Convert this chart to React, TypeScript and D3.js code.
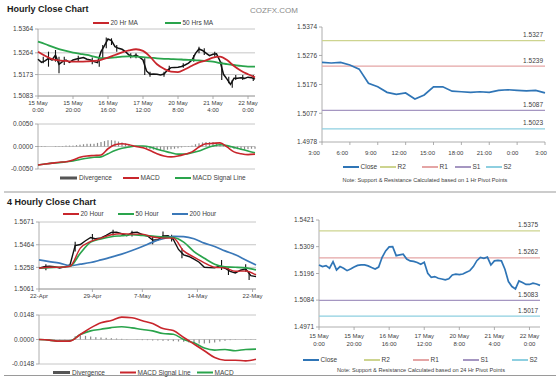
import React from 'react';
import * as d3 from 'd3';

const FONT = 'Arial, "Liberation Sans", sans-serif';
const RED = '#c8262c';
const GREEN = '#2aa44c';
const BLUE = '#3a78b8';
const CLOSE_BLUE = '#2f75b6';
const AXIS = '#9a9a9a';
const GRID = '#b8b8b8';
const TXT = '#404040';
const DIV = '#8a8a8a';

// ---------- Hourly close chart (15 May 0:00 .. 22 May), close every 2 hours
const hourlyClose = [
  1.5237, 1.5224, 1.523, 1.5241, 1.5234, 1.5255, 1.5216, 1.5227, 1.5234, 1.5224,
  1.5234, 1.5238, 1.5241, 1.5244, 1.5237, 1.5234, 1.5227, 1.5223, 1.5269, 1.5294,
  1.5322, 1.5315, 1.529, 1.5283, 1.5279, 1.5269, 1.5255, 1.5249, 1.5255, 1.5246,
  1.5234, 1.5188, 1.5174, 1.5175, 1.5174, 1.5171, 1.5175, 1.5192, 1.5202, 1.5203,
  1.5204, 1.5207, 1.5213, 1.5221, 1.5234, 1.5262, 1.528, 1.5274, 1.5263, 1.5252,
  1.5258, 1.526, 1.523, 1.5174, 1.5154, 1.5132, 1.5157, 1.5157, 1.516, 1.5157,
  1.5162, 1.516, 1.5154,
];
// high/low bars (hour, high, low)
const hourlyBarHours = [3, 6, 10, 12, 15, 23, 31, 35, 37, 39, 42, 45, 53, 56, 61, 64, 72, 75, 83, 89, 92, 95, 101, 105, 109, 111, 113, 117, 123];
const hourlyBarHighs = [1.5248, 1.5269, 1.5276, 1.5248, 1.5248, 1.5252, 1.5244, 1.5234, 1.5297, 1.5328, 1.5325, 1.5297, 1.5262, 1.5262, 1.5241, 1.5185, 1.5185, 1.521, 1.522, 1.5255, 1.529, 1.5283, 1.5269, 1.5227, 1.5164, 1.515, 1.5171, 1.5171, 1.5171];
const hourlyBarLows = [1.522, 1.5206, 1.5227, 1.5178, 1.5213, 1.523, 1.5216, 1.5206, 1.5241, 1.5283, 1.5297, 1.5269, 1.5241, 1.5241, 1.5171, 1.5164, 1.5164, 1.5185, 1.5202, 1.5227, 1.5262, 1.5255, 1.5248, 1.515, 1.5136, 1.5118, 1.515, 1.515, 1.5146];
// moving averages, every 4 hours
const ma20Hr = [1.5269, 1.5252, 1.5238, 1.5232, 1.523, 1.5227, 1.5227, 1.5228, 1.523, 1.5235, 1.5244, 1.5255, 1.5266, 1.5274, 1.5279, 1.5272, 1.5248, 1.5216, 1.5197, 1.5185, 1.5183, 1.5195, 1.521, 1.5224, 1.5232, 1.5244, 1.5248, 1.5234, 1.5209, 1.5189, 1.5174, 1.5161];
const ma50Hr = [1.5311, 1.5301, 1.529, 1.528, 1.5272, 1.5265, 1.526, 1.5255, 1.5248, 1.5242, 1.5242, 1.5245, 1.5248, 1.5249, 1.5248, 1.5246, 1.5244, 1.5241, 1.5239, 1.5238, 1.5237, 1.5235, 1.5234, 1.5232, 1.523, 1.5227, 1.5221, 1.5217, 1.5213, 1.5209, 1.5206, 1.5206];
const hourlyMacd = [-0.0041, -0.0039, -0.0037, -0.0035, -0.0034, -0.003, -0.0024, -0.0021, -0.002, -0.0019, -0.0005, 0.0004, 0.0006, 0.0004, 0.0, -0.0003, -0.0009, -0.0016, -0.0021, -0.0023, -0.0021, -0.0017, -0.0012, -0.0001, 0.0006, 0.0007, 0.0008, -0.0001, -0.0012, -0.0016, -0.0018, -0.0017];
const hourlySignal = [-0.0041, -0.0039, -0.0037, -0.0036, -0.0034, -0.0032, -0.0029, -0.0026, -0.0024, -0.0023, -0.0016, -0.0009, -0.0004, -0.0001, 0.0001, 0.0001, -0.0001, -0.0006, -0.001, -0.0014, -0.0017, -0.0017, -0.0014, -0.001, -0.0004, 0.0001, 0.0004, 0.0002, -0.0002, -0.0006, -0.001, -0.0014];
// divergence, every 2 hours
const hourlyDivergence = [
  -0.0001, -0.0001, -0.0001, 0, 0, 0.0001, 0.0001, 0.0001, 0.0002, 0.0002,
  0.0002, 0.0003, 0.0004, 0.0005, 0.0006, 0.0006, 0.0006, 0.0008, 0.001, 0.0012,
  0.0014, 0.0014, 0.0013, 0.0011, 0.0009, 0.0007, 0.0004, 0.0002, 0.0001, -0.0001,
  -0.0003, -0.0004, -0.0006, -0.0007, -0.0008, -0.0008, -0.0008, -0.0007, -0.0006, -0.0005,
  -0.0004, -0.0002, -0.0001, 0.0001, 0.0002, 0.0005, 0.0007, 0.0009, 0.001, 0.001,
  0.001, 0.0008, 0.0006, 0.0003, 0.0001, -0.0002, -0.0005, -0.0006, -0.0007, -0.0007,
  -0.0006, -0.0005, -0.0005,
];
const hourlyTickLabels = [['15 May', '0:00'], ['15 May', '20:00'], ['16 May', '16:00'], ['17 May', '12:00'], ['20 May', '8:00'], ['21 May', '4:00'], ['22 May', '0:00']];
const hourlyPriceTicks = [1.5083, 1.5173, 1.5264, 1.5364];
const hourlyMacdTicks = [-0.005, 0, 0.005];

// ---------- last 24 hours with 1 Hr pivots
const dayLabels = ['3:00', '6:00', '9:00', '12:00', '15:00', '18:00', '21:00', '0:00', '3:00'];
const dayClose = [1.5252, 1.525, 1.5252, 1.5243, 1.5229, 1.518, 1.5168, 1.5149, 1.5142, 1.5147, 1.5126, 1.514, 1.5168, 1.5168, 1.5153, 1.5151, 1.5149, 1.5151, 1.5149, 1.5156, 1.5158, 1.5156, 1.5154, 1.5156, 1.5147];
const dayPriceTicks = [1.4978, 1.5077, 1.5176, 1.5276, 1.5374];
const pivotNames = ['R2', 'R1', 'S1', 'S2'];
const pivotColors = ['#cdd48f', '#e4a5a5', '#a596c1', '#8ecfe0'];
const dayPivots = [1.5327, 1.5239, 1.5087, 1.5023];

// ---------- 4 hourly close chart (22-Apr .. 22-May), close every 3 bars
const fourHourClose = [
  1.525, 1.5265, 1.5268, 1.5265, 1.5253, 1.5262, 1.528, 1.5457, 1.5466, 1.55,
  1.553, 1.5518, 1.5527, 1.5549, 1.5576, 1.5579, 1.5564, 1.5546, 1.5573, 1.5579,
  1.5555, 1.5543, 1.5506, 1.5509, 1.5543, 1.5546, 1.5512, 1.5421, 1.5372, 1.5357,
  1.5332, 1.5305, 1.5259, 1.5256, 1.5253, 1.5271, 1.525, 1.5222, 1.5207, 1.5232,
  1.5244, 1.5183, 1.5174,
];
const fourHourBarIdx = [4, 21, 31, 43, 54, 66, 72, 77, 83, 106, 110, 120, 122];
const fourHourBarHighs = [1.5287, 1.5491, 1.5561, 1.5601, 1.5591, 1.5543, 1.5585, 1.5555, 1.5433, 1.5326, 1.525, 1.5287, 1.5219];
const fourHourBarLows = [1.5232, 1.5402, 1.5509, 1.5549, 1.554, 1.5469, 1.5524, 1.5494, 1.5341, 1.5235, 1.5189, 1.5219, 1.5143];
// moving averages, every 6 bars
const ma20Hour = [1.525, 1.5259, 1.5259, 1.5268, 1.5433, 1.5494, 1.5524, 1.5555, 1.5564, 1.5561, 1.5561, 1.5534, 1.5524, 1.5524, 1.5408, 1.5351, 1.5299, 1.5259, 1.5253, 1.5222, 1.5225, 1.5189];
const ma50Hour = [1.525, 1.5256, 1.5259, 1.5268, 1.5387, 1.5488, 1.5518, 1.5537, 1.5546, 1.5555, 1.5549, 1.5543, 1.5534, 1.553, 1.5488, 1.5402, 1.5341, 1.5287, 1.5262, 1.5259, 1.5253, 1.5235];
const ma200Hour = [1.5326, 1.5311, 1.5296, 1.5274, 1.5287, 1.5302, 1.5326, 1.5351, 1.5378, 1.5411, 1.5448, 1.5488, 1.5518, 1.554, 1.5537, 1.5518, 1.5479, 1.5448, 1.5408, 1.5372, 1.5326, 1.528];
const fourHourSignal = [0, -0.0004, -0.001, -0.001, 0.003, 0.007, 0.0101, 0.0115, 0.0135, 0.0131, 0.0113, 0.0097, 0.0066, 0.0054, 0.0012, -0.0028, -0.0068, -0.0109, -0.0125, -0.0125, -0.0129, -0.0119];
const fourHourMacd = [0, -0.0004, -0.001, -0.0008, 0.003, 0.0052, 0.0062, 0.0072, 0.0077, 0.007, 0.006, 0.0052, 0.0036, 0.0032, 0, -0.002, -0.0052, -0.0064, -0.006, -0.0068, -0.006, -0.0058];
const fourHourDivergence = [
  -0.0002, -0.0002, -0.0002, -0.0002, -0.0002, -0.0002, 0.0002, 0.002, 0.0024, 0.0022,
  0.0018, 0.0014, 0.0012, 0.001, 0.0008, 0.0006, 0.0004, 0.0002, 0, -0.0002,
  -0.0004, -0.0004, -0.0006, -0.0006, -0.0008, -0.0008, -0.001, -0.0012, -0.0014, -0.0018,
  -0.0022, -0.0024, -0.0024, -0.0022, -0.0018, -0.0012, -0.0008, -0.0004, -0.0002, 0,
  0.0002, 0.0002, 0.0002,
];
const fourHourLabels = ['22-Apr', '29-Apr', '7-May', '14-May', '22-May'];
const fourHourLabelIdx = [0, 31, 60, 92, 124];
const fourHourPriceTicks = [1.5061, 1.5258, 1.5464, 1.5671];
const fourHourMacdTicks = [-0.0148, 0, 0.0148];

// ---------- hourly close with 24 Hr pivots
const weekClose = [
  1.5232, 1.5225, 1.5229, 1.5218, 1.5246, 1.5211, 1.5225, 1.5218, 1.5208, 1.5215,
  1.5223, 1.523, 1.5232, 1.5232, 1.5228, 1.5221, 1.5215, 1.5223, 1.5264, 1.5291,
  1.5308, 1.5309, 1.5271, 1.5274, 1.5277, 1.5257, 1.5249, 1.5247, 1.5242, 1.5235,
  1.5243, 1.5197, 1.518, 1.5183, 1.5176, 1.5173, 1.5169, 1.5174, 1.519, 1.5193,
  1.5191, 1.5194, 1.5201, 1.5208, 1.5225, 1.525, 1.5264, 1.526, 1.5265, 1.5232,
  1.5249, 1.5251, 1.5249, 1.5214, 1.5162, 1.5141, 1.5131, 1.5165, 1.5158, 1.515,
  1.515, 1.5155, 1.5152, 1.5146,
];
const weekPriceTicks = [1.4971, 1.5084, 1.5196, 1.5309, 1.5421];
const weekPivots = [1.5375, 1.5262, 1.5083, 1.5017];

type Lin = d3.ScaleLinear<number, number>;
const fmt4 = (v: number) => v.toFixed(4);

function YAxis({ y, ticks, x, x2, grid }: { y: Lin; ticks: number[]; x: number; x2: number; grid: boolean }) {
  const [b, t] = y.range();
  return (
    <g>
      {grid && ticks.map((v) => <line key={'g' + v} x1={x} x2={x2} y1={y(v)} y2={y(v)} stroke={GRID} strokeWidth={0.8} />)}
      <line x1={x} x2={x} y1={b} y2={t} stroke={AXIS} strokeWidth={0.8} />
      {ticks.map((v) => (
        <g key={v}>
          <line x1={x - 3} x2={x} y1={y(v)} y2={y(v)} stroke={AXIS} strokeWidth={0.8} />
          <text x={x - 5} y={y(v)} dy="0.35em" textAnchor="end" fontSize={6.5} fill={TXT}>{fmt4(v)}</text>
        </g>
      ))}
    </g>
  );
}

function XBase({ y, x1, x2, ticks }: { y: number; x1: number; x2: number; ticks: number[] }) {
  return (
    <g>
      <line x1={x1} x2={x2} y1={y} y2={y} stroke={AXIS} strokeWidth={0.8} />
      {ticks.map((t, i) => <line key={i} x1={t} x2={t} y1={y} y2={y + 3} stroke={AXIS} strokeWidth={0.8} />)}
    </g>
  );
}

type Item = { label: string; color: string; x: number; bar?: boolean };
function Legend({ y, items }: { y: number; items: Item[] }) {
  return (
    <g fontSize={6.5} fill={TXT}>
      {items.map((it) => (
        <g key={it.label}>
          {it.bar
            ? <rect x={it.x} y={y - 1.5} width={17} height={3} fill="#555" />
            : <line x1={it.x} x2={it.x + 16} y1={y} y2={y} stroke={it.color} strokeWidth={2} />}
          <text x={it.x + (it.bar ? 19 : 17.5)} y={y} dy="0.35em">{it.label}</text>
        </g>
      ))}
    </g>
  );
}

function Pivots({ y, values, x1, x2 }: { y: Lin; values: number[]; x1: number; x2: number }) {
  return (
    <g>
      {values.map((v, i) => (
        <g key={pivotNames[i]}>
          <line x1={x1} x2={x2} y1={y(v)} y2={y(v)} stroke={pivotColors[i]} strokeWidth={1.2} />
          <text x={x2 - 2} y={y(v) - 3.5} textAnchor="end" fontSize={6.5} fill={TXT}>{fmt4(v)}</text>
        </g>
      ))}
    </g>
  );
}

export default function App() {
  // top-left hourly
  const hx = d3.scaleLinear().domain([0, 124]).range([38, 255]);
  const hy = d3.scaleLinear().domain([1.5083, 1.5364]).range([96, 29]);
  const hm = d3.scaleLinear().domain([-0.005, 0.005]).range([169, 124]);
  const hLine = (step: number, y: Lin) => d3.line<number>().x((_, i) => hx(i * step)).y((d) => y(d)).curve(d3.curveMonotoneX);
  const hTicks = hourlyTickLabels.map((_, i) => hx(i * 20));

  // top-right 24h
  const dx = d3.scaleLinear().domain([0, dayClose.length - 1]).range([322, 545]);
  const dLab = d3.scalePoint<number>().domain(dayLabels.map((_, i) => i)).range([314, 541]);
  const dy = d3.scaleLinear().domain([1.4978, 1.5374]).range([142, 27]);
  const dPath = d3.line<number>().x((_, i) => dx(i)).y((d) => dy(d))(dayClose) || '';

  // bottom-left 4 hourly
  const fx = d3.scaleLinear().domain([0, 126]).range([39, 256]);
  const fy = d3.scaleLinear().domain([1.5061, 1.5671]).range([289, 222]);
  const fm = d3.scaleLinear().domain([-0.0148, 0.0148]).range([364, 315]);
  const fLine = (step: number, y: Lin) => d3.line<number>().x((_, i) => fx(i * step)).y((d) => y(d)).curve(d3.curveMonotoneX);

  // bottom-right hourly with 24h pivots
  const bx = d3.scaleLinear().domain([0, 126]).range([319, 540]);
  const by = d3.scaleLinear().domain([1.4971, 1.5421]).range([327, 220]);
  const bPath = d3.line<number>().x((_, i) => bx(i * 2)).y((d) => by(d))(weekClose) || '';
  const bTicks = hourlyTickLabels.map((_, i) => bx(i * 20));

  return (
    <svg width={560} height={385} style={{ position: 'absolute', left: 0, top: 0, background: '#fff' }} fontFamily={FONT}>
      <text x={7} y={12} fontSize={9} fontWeight="bold" fill="#1a1a1a">Hourly Close Chart</text>
      <text x={250} y={12.5} fontSize={8} fill="#8a8a8a">COZFX.COM</text>

      {/* ---- hourly price ---- */}
      <Legend y={23} items={[{ label: '20 Hr MA', color: RED, x: 93 }, { label: '50 Hrs MA', color: GREEN, x: 165 }]} />
      <YAxis y={hy} ticks={hourlyPriceTicks} x={38} x2={255} grid />
      <XBase y={hy(hourlyPriceTicks[0])} x1={38} x2={255} ticks={hTicks} />
      {hourlyBarHours.map((h, i) => (
        <line key={h} x1={hx(h)} x2={hx(h)} y1={hy(hourlyBarHighs[i])} y2={hy(hourlyBarLows[i])} stroke="#111" strokeWidth={1.1} />
      ))}
      <path d={d3.line<number>().x((_, i) => hx(i * 2)).y((d) => hy(d))(hourlyClose) || ''} fill="none" stroke="#111" strokeWidth={1.5} />
      <path d={hLine(4, hy)(ma50Hr) || ''} fill="none" stroke={GREEN} strokeWidth={1.8} />
      <path d={hLine(4, hy)(ma20Hr) || ''} fill="none" stroke={RED} strokeWidth={1.8} />
      {hourlyTickLabels.map((l, i) => (
        <text key={i} x={hTicks[i]} y={105} textAnchor="middle" fontSize={6} fill={TXT}>
          <tspan x={hTicks[i]}>{l[0]}</tspan>
          <tspan x={hTicks[i]} dy={7}>{l[1]}</tspan>
        </text>
      ))}

      {/* ---- hourly MACD ---- */}
      <YAxis y={hm} ticks={hourlyMacdTicks} x={38} x2={255} grid />
      {hourlyDivergence.map((v, i) => (
        <rect key={i} x={hx(i * 2) - 0.6} width={1.2} y={Math.min(hm(v), hm(0))} height={Math.abs(hm(v) - hm(0))} fill={DIV} />
      ))}
      <path d={hLine(4, hm)(hourlySignal) || ''} fill="none" stroke={GREEN} strokeWidth={1.6} />
      <path d={hLine(4, hm)(hourlyMacd) || ''} fill="none" stroke={RED} strokeWidth={1.6} />
      <Legend y={178} items={[{ label: 'Divergence', color: '#555', x: 60, bar: true }, { label: 'MACD', color: RED, x: 123 }, { label: 'MACD Signal Line', color: GREEN, x: 175 }]} />

      {/* ---- 24h with 1 Hr pivots ---- */}
      <YAxis y={dy} ticks={dayPriceTicks} x={322} x2={545} grid={false} />
      <XBase y={142} x1={322} x2={545} ticks={dayLabels.map((_, i) => dx(i * 3))} />
      <Pivots y={dy} values={dayPivots} x1={322} x2={545} />
      <path d={dPath} fill="none" stroke={CLOSE_BLUE} strokeWidth={1.7} />
      {dayLabels.map((l, i) => (
        <text key={i} x={dLab(i)} y={155} textAnchor="middle" fontSize={6} fill={TXT}>{l}</text>
      ))}
      <Legend y={167} items={[{ label: 'Close', color: CLOSE_BLUE, x: 343 }, ...pivotNames.map((n, i) => ({ label: n, color: pivotColors[i], x: [380, 422, 455, 486][i] }))]} />
      <text x={425} y={182} textAnchor="middle" fontSize={5.6} fill={TXT}>Note: Support &amp; Resistance Calculated based on 1 Hr Pivot Points</text>

      {/* ---- dividers ---- */}
      <line x1={4} x2={556} y1={192} y2={192} stroke="#9a9a9a" strokeWidth={1.2} />
      <line x1={4} x2={556} y1={375.5} y2={375.5} stroke="#9a9a9a" strokeWidth={1.2} />

      <text x={7} y={204.5} fontSize={9} fontWeight="bold" fill="#1a1a1a">4 Hourly Close Chart</text>

      {/* ---- 4 hourly price ---- */}
      <Legend y={214} items={[{ label: '20 Hour', color: RED, x: 63 }, { label: '50 Hour', color: GREEN, x: 118 }, { label: '200 Hour', color: BLUE, x: 172 }]} />
      <YAxis y={fy} ticks={fourHourPriceTicks} x={39} x2={256} grid />
      <XBase y={289} x1={39} x2={256} ticks={fourHourLabelIdx.map((i) => fx(i))} />
      {fourHourBarIdx.map((b, i) => (
        <line key={b} x1={fx(b)} x2={fx(b)} y1={fy(fourHourBarHighs[i])} y2={fy(fourHourBarLows[i])} stroke="#111" strokeWidth={1.1} />
      ))}
      <path d={d3.line<number>().x((_, i) => fx(i * 3)).y((d) => fy(d))(fourHourClose) || ''} fill="none" stroke="#111" strokeWidth={1.4} />
      <path d={fLine(6, fy)(ma200Hour) || ''} fill="none" stroke={BLUE} strokeWidth={1.7} />
      <path d={fLine(6, fy)(ma50Hour) || ''} fill="none" stroke={GREEN} strokeWidth={1.7} />
      <path d={fLine(6, fy)(ma20Hour) || ''} fill="none" stroke={RED} strokeWidth={1.4} />
      {fourHourLabels.map((l, i) => (
        <text key={l} x={fx(fourHourLabelIdx[i])} y={298} textAnchor="middle" fontSize={6} fill={TXT}>{l}</text>
      ))}

      {/* ---- 4 hourly MACD ---- */}
      <YAxis y={fm} ticks={fourHourMacdTicks} x={39} x2={256} grid />
      {fourHourDivergence.map((v, i) => (
        <rect key={i} x={fx(i * 3) - 0.6} width={1.2} y={Math.min(fm(v), fm(0))} height={Math.abs(fm(v) - fm(0))} fill={DIV} />
      ))}
      <path d={fLine(6, fm)(fourHourMacd) || ''} fill="none" stroke={GREEN} strokeWidth={1.6} />
      <path d={fLine(6, fm)(fourHourSignal) || ''} fill="none" stroke={RED} strokeWidth={1.6} />
      <Legend y={372.5} items={[{ label: 'Divergence', color: '#555', x: 53, bar: true }, { label: 'MACD Signal Line', color: RED, x: 120 }, { label: 'MACD', color: GREEN, x: 197 }]} />

      {/* ---- hourly with 24 Hr pivots ---- */}
      <YAxis y={by} ticks={weekPriceTicks} x={319} x2={540} grid={false} />
      <XBase y={327} x1={319} x2={540} ticks={bTicks} />
      <Pivots y={by} values={weekPivots} x1={319} x2={540} />
      <path d={bPath} fill="none" stroke={CLOSE_BLUE} strokeWidth={1.7} />
      {hourlyTickLabels.map((l, i) => (
        <text key={i} x={bTicks[i]} y={338} textAnchor="middle" fontSize={6} fill={TXT}>
          <tspan x={bTicks[i]}>{l[0]}</tspan>
          <tspan x={bTicks[i]} dy={7.5}>{l[1]}</tspan>
        </text>
      ))}
      <Legend y={360} items={[{ label: 'Close', color: CLOSE_BLUE, x: 303 }, ...pivotNames.map((n, i) => ({ label: n, color: pivotColors[i], x: [364, 413, 463, 512][i] }))]} />
      <text x={421} y={372} textAnchor="middle" fontSize={5.6} fill={TXT}>Note: Support &amp; Resistance Calculated based on 24 Hr Pivot Points</text>
    </svg>
  );
}
